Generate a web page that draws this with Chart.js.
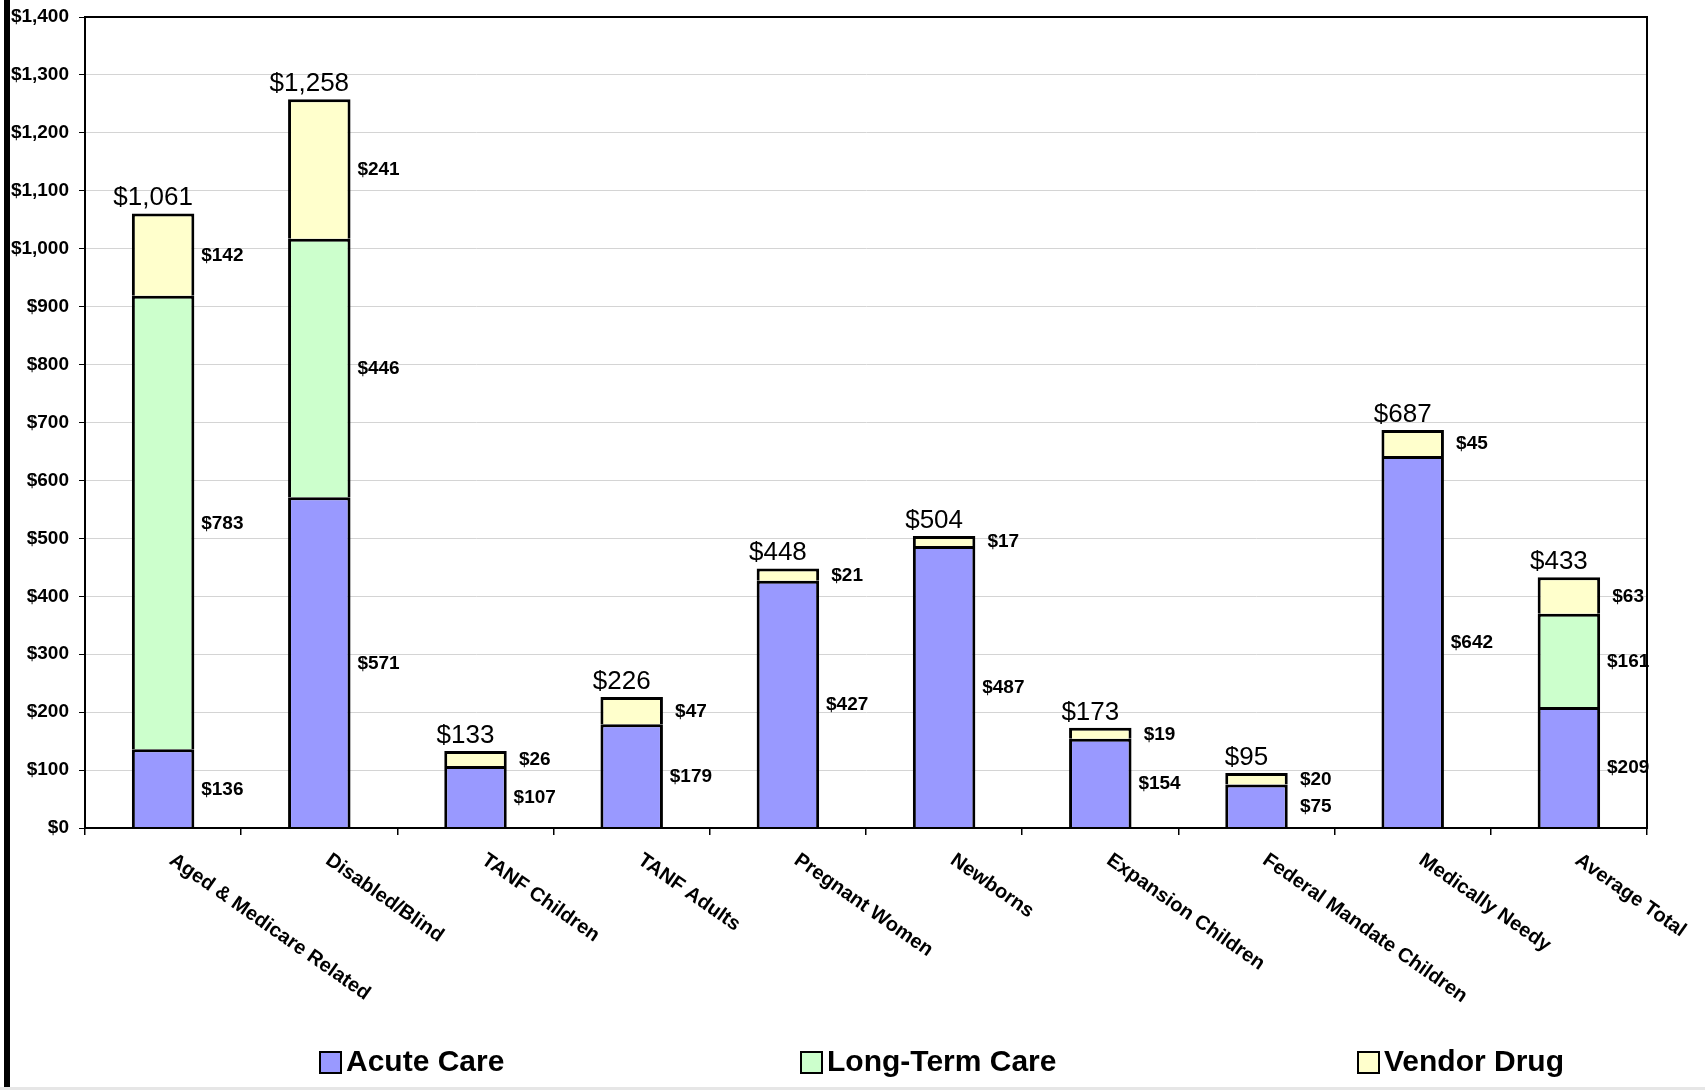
<!DOCTYPE html>
<html>
<head>
<meta charset="utf-8">
<script src="https://cdn.jsdelivr.net/npm/chart.js@4/dist/chart.umd.min.js"></script>
<style>
  html, body { margin: 0; padding: 0; background: #fff; }
  #wrap { position: relative; width: 1705px; height: 1090px; }
  canvas { display: block; }
</style>
</head>
<body>
<div id="wrap"><canvas id="c" width="1705" height="1090"></canvas></div>
<script>
// ---- Data ----
const categories = [
  "Aged & Medicare Related", "Disabled/Blind", "TANF Children", "TANF Adults",
  "Pregnant Women", "Newborns", "Expansion Children", "Federal Mandate Children",
  "Medically Needy", "Average Total"
];
const acuteCare    = [136, 571, 107, 179, 427, 487, 154, 75, 642, 209];
const longTermCare = [783, 446, null, null, null, null, null, null, null, 161];
const vendorDrug   = [142, 241, 26, 47, 21, 17, 19, 20, 45, 63];
const totals       = [1061, 1258, 133, 226, 448, 504, 173, 95, 687, 433];
const seriesNames  = ["Acute Care", "Long-Term Care", "Vendor Drug"];
const yMin = 0, yMax = 1400, yStep = 100;

const FONT = "'Liberation Sans', Arial, Helvetica, sans-serif";
const colors = ["#9999FF", "#CCFFCC", "#FFFFCC"];

function money(v) { return "$" + Number(v).toLocaleString("en-US"); }

const decorPlugin = {
  id: "decor",
  afterDraw(chart) {
    const ctx = chart.ctx;
    const ca = chart.chartArea;
    const xs = chart.scales.x, ys = chart.scales.y;
    ctx.save();

    // plot frame
    ctx.strokeStyle = "#000";
    ctx.lineWidth = 2;
    ctx.strokeRect(ca.left, ca.top, ca.right - ca.left, ca.bottom - ca.top);

    // segment labels
    ctx.fillStyle = "#000";
    ctx.font = "bold 19px " + FONT;
    ctx.textAlign = "center";
    ctx.textBaseline = "middle";
    chart.data.datasets.forEach((ds, di) => {
      const meta = chart.getDatasetMeta(di);
      meta.data.forEach((bar, i) => {
        const v = ds.data[i];
        if (v === null || v === undefined) return;
        const p = bar.getProps(["x", "y", "base", "width"], true);
        const cx = p.x + p.width / 2 + 28;
        const cy = (p.y + p.base) / 2;
        ctx.fillText(money(v), cx, cy + 1);
      });
    });

    // totals
    ctx.font = "26px " + FONT;
    ctx.textAlign = "center";
    ctx.textBaseline = "alphabetic";
    totals.forEach((t, i) => {
      const x = xs.getPixelForValue(i) - 10;
      const y = ys.getPixelForValue(t) - 8;
      ctx.fillText(money(t), x, y);
    });

    // rotated category labels
    ctx.font = "bold 20px " + FONT;
    ctx.textAlign = "left";
    ctx.textBaseline = "top";
    categories.forEach((c, i) => {
      const x = xs.getPixelForValue(i) + 14;
      const y = ca.bottom + 22;
      ctx.save();
      ctx.translate(x, y);
      ctx.rotate(35 * Math.PI / 180);
      ctx.fillText(c, 0, 0);
      ctx.restore();
    });

    // legend
    const legendX = [320, 801, 1358];
    const ly = 1052;
    ctx.font = "bold 30px " + FONT;
    ctx.textAlign = "left";
    ctx.textBaseline = "middle";
    seriesNames.forEach((n, k) => {
      ctx.fillStyle = colors[k];
      ctx.fillRect(legendX[k], ly, 21, 21);
      ctx.strokeStyle = "#000";
      ctx.lineWidth = 2;
      ctx.strokeRect(legendX[k], ly, 21, 21);
      ctx.fillStyle = "#000";
      ctx.fillText(n, legendX[k] + 26, ly + 11);
    });

    // left black rule and bottom gray line
    ctx.fillStyle = "#000";
    ctx.fillRect(4, 0, 6, 1087);
    ctx.fillStyle = "#e6e6e6";
    ctx.fillRect(0, 1087, 1705, 3);

    ctx.restore();
  }
};

const datasets = [acuteCare, longTermCare, vendorDrug].map((d, k) => ({
  label: seriesNames[k],
  data: d,
  backgroundColor: colors[k],
  borderColor: "#000",
  borderWidth: 3,
  borderSkipped: "start",
  categoryPercentage: 1.0,
  barPercentage: 0.4
}));

new Chart(document.getElementById("c"), {
  type: "bar",
  data: { labels: categories, datasets },
  plugins: [decorPlugin],
  options: {
    responsive: false,
    animation: false,
    devicePixelRatio: 1,
    layout: { padding: { top: 17, right: 58, left: 0, bottom: 0 } },
    plugins: { legend: { display: false }, tooltip: { enabled: false } },
    scales: {
      x: {
        stacked: true,
        offset: true,
        grid: { display: true, drawOnChartArea: false, drawTicks: true, tickLength: 7, tickColor: "#000", offset: true, lineWidth: 1.5 },
        border: { display: true, color: "#000", width: 2 },
        ticks: { display: false },
        afterFit(scale) { scale.height = 262; scale.paddingLeft = 0; scale.paddingRight = 0; }
      },
      y: {
        stacked: true,
        min: yMin, max: yMax,
        ticks: {
          stepSize: yStep,
          padding: 10,
          color: "#000",
          font: { family: FONT, size: 19, weight: "bold" },
          callback: (v) => money(v)
        },
        grid: { color: "#d4d4d4", lineWidth: 1, tickLength: 6, tickColor: "#000" },
        border: { display: true, color: "#000", width: 2 },
        afterFit(scale) { scale.width = 85; scale.paddingTop = 0; scale.paddingBottom = 0; }
      }
    }
  }
});
</script>
</body>
</html>
